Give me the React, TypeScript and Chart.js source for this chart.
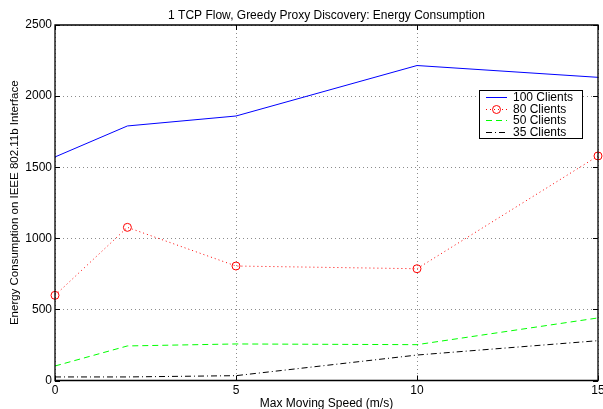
import React, { useEffect, useRef } from 'react';
import { Chart, registerables } from 'chart.js';

Chart.register(...registerables);

const speeds = [0, 2, 5, 10, 15];
const clients100 = [1572, 1790, 1860, 2215, 2132];
const clients80 = [599, 1077, 805, 786, 1579];
const clients50 = [102, 243, 257, 252, 440];
const clients35 = [25, 25, 34, 179, 280];
const xTicks = [0, 5, 10, 15];
const yTicks = [0, 500, 1000, 1500, 2000, 2500];
const seriesLabels = ['100 Clients', '80 Clients', '50 Clients', '35 Clients'];
const chartTitle = '1 TCP Flow, Greedy Proxy Discovery: Energy Consumption';
const xTitle = 'Max Moving Speed (m/s)';
const yTitle = 'Energy Consumption on IEEE 802.11b Interface';

const FONT = '"Liberation Sans", Arial, Helvetica, sans-serif';

const toPoints = (vals: number[]) => speeds.map((s, i) => ({ x: s, y: vals[i] }));

const framePlugin = {
  id: 'matlabFrame',
  afterDatasetsDraw(chart: any) {
    const { ctx, chartArea, scales } = chart;
    const { left, right, top, bottom } = chartArea;
    const x = scales.x;
    const y = scales.y;
    ctx.save();
    ctx.strokeStyle = '#000';
    ctx.lineWidth = 1.3;
    ctx.setLineDash([]);
    ctx.beginPath();
    ctx.rect(left, top, right - left, bottom - top);
    ctx.stroke();
    const tl = 5;
    ctx.lineWidth = 1;
    ctx.beginPath();
    xTicks.forEach((v) => {
      const px = Math.round(x.getPixelForValue(v)) + 0.5;
      ctx.moveTo(px, bottom);
      ctx.lineTo(px, bottom - tl);
      ctx.moveTo(px, top);
      ctx.lineTo(px, top + tl);
    });
    yTicks.forEach((v) => {
      const py = Math.round(y.getPixelForValue(v)) + 0.5;
      ctx.moveTo(left, py);
      ctx.lineTo(left + tl, py);
      ctx.moveTo(right, py);
      ctx.lineTo(right - tl, py);
    });
    ctx.stroke();
    ctx.restore();
  },
};

const legendPlugin = {
  id: 'boxLegend',
  afterDraw(chart: any) {
    const { ctx, chartArea } = chart;
    const bx = chartArea.right - 119;
    const by = chartArea.top + 65;
    const bw = 103;
    const bh = 48;
    ctx.save();
    ctx.fillStyle = '#fff';
    ctx.fillRect(bx, by, bw, bh);
    ctx.strokeStyle = '#000';
    ctx.lineWidth = 1;
    ctx.setLineDash([]);
    ctx.strokeRect(bx + 0.5, by + 0.5, bw, bh);
    ctx.font = `12px ${FONT}`;
    ctx.textBaseline = 'middle';
    ctx.textAlign = 'left';
    chart.data.datasets.forEach((ds: any, i: number) => {
      const cy = Math.round(by + 7 + i * 11.5) + 0.5;
      const x0 = bx + 7;
      const x1 = bx + 28;
      ctx.strokeStyle = ds.borderColor;
      ctx.lineWidth = ds.borderWidth;
      ctx.setLineDash(ds.borderDash || []);
      ctx.beginPath();
      ctx.moveTo(x0, cy);
      ctx.lineTo(x1, cy);
      ctx.stroke();
      if (ds.pointRadius > 0) {
        ctx.setLineDash([]);
        ctx.strokeStyle = ds.pointBorderColor;
        ctx.lineWidth = ds.pointBorderWidth;
        ctx.beginPath();
        ctx.arc((x0 + x1) / 2, cy, ds.pointRadius, 0, Math.PI * 2);
        ctx.stroke();
      }
      ctx.setLineDash([]);
      ctx.fillStyle = '#000';
      ctx.fillText(ds.label, bx + 34, cy);
    });
    ctx.restore();
  },
};

export default function App() {
  const ref = useRef<HTMLCanvasElement>(null);

  useEffect(() => {
    const canvas = ref.current;
    if (!canvas) return;
    const chart = new Chart(canvas, {
      type: 'line',
      data: {
        datasets: [
          {
            label: seriesLabels[0],
            data: toPoints(clients100),
            borderColor: '#0000ff',
            borderWidth: 1,
            pointRadius: 0,
            fill: false,
            tension: 0,
          },
          {
            label: seriesLabels[1],
            data: toPoints(clients80),
            borderColor: '#ff0000',
            borderWidth: 1,
            borderDash: [1, 3],
            pointRadius: 4,
            pointStyle: 'circle',
            pointBorderColor: '#ff0000',
            pointBackgroundColor: 'rgba(0,0,0,0)',
            pointBorderWidth: 1,
            fill: false,
            tension: 0,
            clip: false,
          },
          {
            label: seriesLabels[2],
            data: toPoints(clients50),
            borderColor: '#00ff00',
            borderWidth: 1,
            borderDash: [6, 4],
            pointRadius: 0,
            fill: false,
            tension: 0,
          },
          {
            label: seriesLabels[3],
            data: toPoints(clients35),
            borderColor: '#000000',
            borderWidth: 1,
            borderDash: [6, 3, 1, 3],
            pointRadius: 0,
            fill: false,
            tension: 0,
          },
        ] as any,
      },
      options: {
        animation: false,
        responsive: false,
        devicePixelRatio: 1,
        layout: { padding: { left: 0, right: 5, top: 0, bottom: 0 } },
        plugins: {
          legend: { display: false },
          tooltip: { enabled: false },
          title: {
            display: true,
            text: chartTitle,
            color: '#000',
            fullSize: false,
            font: { family: FONT, size: 12, weight: 'normal' },
            padding: { top: 8, bottom: 2.6 },
          },
        },
        scales: {
          x: {
            type: 'linear',
            min: 0,
            max: 15,
            afterBuildTicks: (s: any) => {
              s.ticks = xTicks.map((v) => ({ value: v }));
            },
            afterFit: (s: any) => {
              s.height = 28.5;
              s.paddingLeft = 0;
              s.paddingRight = 0;
            },
            ticks: {
              color: '#000',
              padding: 2.5,
              maxRotation: 0,
              autoSkip: false,
              font: { family: FONT, size: 12 },
              callback: (v: any) => String(v),
            },
            grid: { color: 'rgba(0,0,0,0.45)', lineWidth: 1, drawTicks: false },
            border: { display: false, dash: [1, 3] },
            title: {
              display: true,
              text: xTitle,
              color: '#000',
              font: { family: FONT, size: 12, lineHeight: 1 },
              padding: { top: 0, bottom: -1 },
            },
          },
          y: {
            type: 'linear',
            min: 0,
            max: 2500,
            afterBuildTicks: (s: any) => {
              s.ticks = yTicks.map((v) => ({ value: v }));
            },
            afterFit: (s: any) => {
              s.width = 55;
              s.paddingTop = 0;
              s.paddingBottom = 0;
            },
            ticks: {
              color: '#000',
              padding: 3,
              autoSkip: false,
              font: { family: FONT, size: 12 },
              callback: (v: any) => String(v),
            },
            grid: { color: 'rgba(0,0,0,0.45)', lineWidth: 1, drawTicks: false },
            border: { display: false, dash: [1, 3] },
            title: {
              display: true,
              text: yTitle,
              color: '#000',
              font: { family: FONT, size: 11.5 },
              padding: { top: 8, bottom: 0 },
            },
          },
        },
      } as any,
      plugins: [framePlugin, legendPlugin],
    });
    return () => chart.destroy();
  }, []);

  return (
    <div style={{ position: 'absolute', left: 0, top: 0, width: 603, height: 409, background: '#fff' }}>
      <canvas ref={ref} width={603} height={409} style={{ display: 'block', width: 603, height: 409 }} />
    </div>
  );
}
